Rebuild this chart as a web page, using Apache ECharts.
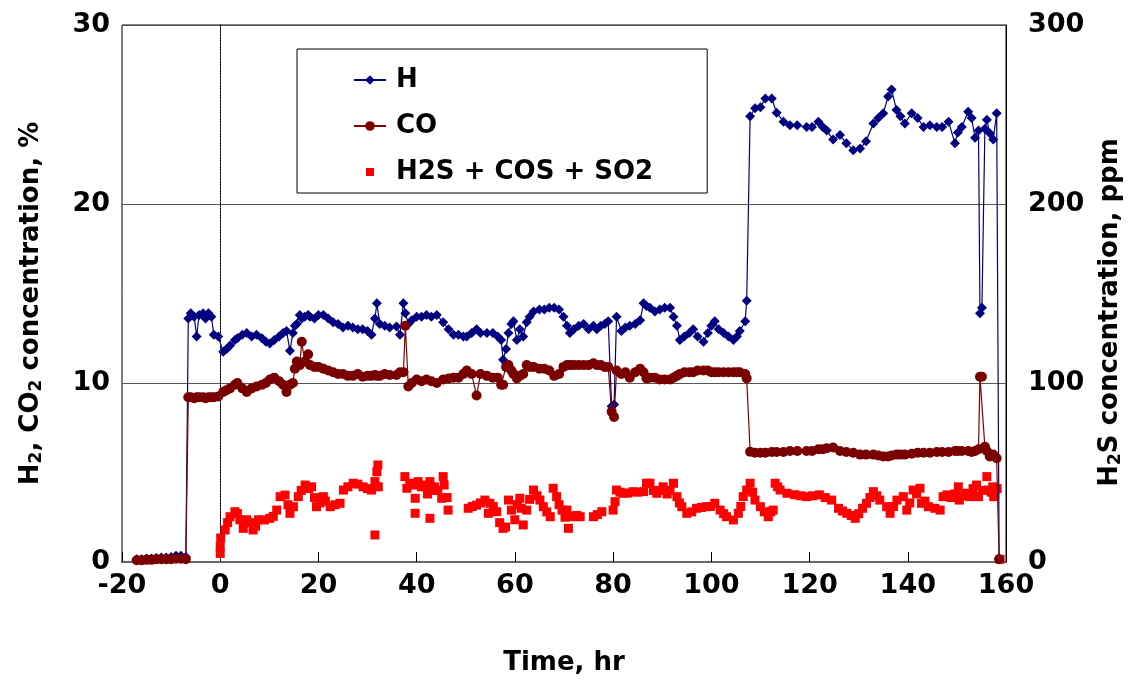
<!DOCTYPE html>
<html>
<head>
<meta charset="utf-8">
<script src="https://cdn.jsdelivr.net/npm/echarts@6/dist/echarts.min.js"></script>
<style>
  html, body { margin: 0; padding: 0; background: #fff; }
  #chart { width: 1138px; height: 684px; }
</style>
</head>
<body>
<div id="chart"></div>
<script>
// Gas composition over the run (hours relative to start of sulfur sampling)
const hours = [
  -17, -16, -15, -14, -13, -12, -11, -10, -9, -8, -7,
  -6.5, -6, -5.3, -4.8, -4.3, -3.5, -3, -2.4, -1.8, -1.3, -0.4,
  0.6, 1.3, 2, 3, 3.5, 4.5, 5.4, 6.4, 7.4, 8.5, 9.3, 10.1, 11, 12, 12.8, 13.5, 14.2, 14.8,
  15.2, 15.6, 16.2, 16.6, 17.2, 17.9, 18.3, 19.2, 20, 21, 22, 23, 24, 25, 26, 27, 28, 29, 30,
  30.8, 31.5, 31.9, 32.5, 33.5, 34.5, 35.9, 36.6, 37.3, 37.7, 38.3, 39, 40, 41, 42, 43, 44.1,
  45.4, 46.5, 47.5, 48.5, 49.5, 50.2, 51.2, 52.2, 53, 54.3, 55.5, 56.5, 57.2, 57.6, 58.2, 58.7,
  59.3, 59.7, 60.4, 61, 61.7, 62.4, 63, 63.8, 65, 66, 67, 68, 69, 69.9, 70.6, 71.2, 72, 73, 74,
  75, 76, 76.7, 77.5, 78.3, 79, 79.7, 80.2, 80.7, 81.7, 82.5, 83.4, 84.5, 85.5, 86.2, 86.8,
  87.5, 88.5, 89.5, 90.5, 91.6, 92.3, 93, 93.6, 94.5, 95.5, 96.3, 97.2, 98.4, 99.3, 100, 100.7,
  101.5, 102.5, 103.5, 104.5, 105.2, 105.8, 106.9, 107.2, 107.9,
  108.9, 110, 111, 112.3, 113.3, 114.7, 116, 117.5, 119.4, 120.5, 121.8, 122.7, 123.5, 124.8,
  126.2, 127.5, 128.9, 130.3, 131.5, 133, 134, 135, 136, 136.7, 137.7, 138.5, 139.4, 140.8,
  142, 143.2, 144.5, 145.9, 147, 148.3, 149.6, 150.2, 151, 152.3, 153, 153.7, 154.4, 154.7,
  155.1, 155.7, 156.1, 156.7, 157.4, 158.1, 158.6
];

const h2 = [
  0.15, 0.15, 0.2, 0.2, 0.22, 0.25, 0.25, 0.28, 0.35, 0.35, 0.3,
  13.6, 13.9, 13.7, 12.6, 13.8, 13.9, 13.6, 13.9, 13.7, 12.7, 12.6,
  11.75, 11.9, 12.1, 12.4, 12.5, 12.7, 12.8, 12.6, 12.7, 12.5, 12.3, 12.2, 12.4, 12.6, 12.8, 12.9, 11.8, 12.8,
  13.2, 13.3, 13.8, 13.6, 13.7, 13.8, 13.7, 13.6, 13.8, 13.8, 13.6, 13.4, 13.3, 13.1, 13.2, 13.1, 13.0, 13.0, 12.9,
  12.7, 13.6, 14.45, 13.3, 13.2, 13.1, 13.15, 12.7, 14.45, 13.9, 13.3, 13.5, 13.7, 13.7, 13.8, 13.7, 13.8,
  13.4, 13.0, 12.7, 12.7, 12.6, 12.6, 12.8, 13.0, 12.8, 12.8, 12.8, 12.6, 12.4, 11.3, 11.9, 12.8,
  13.3, 13.45, 12.4, 13.0, 12.6, 13.4, 13.7, 14.0, 14.1, 14.1, 14.2, 14.2, 14.1, 13.7, 13.2, 12.8, 13.0, 13.2, 13.3,
  13.0, 13.2, 13.0, 13.2, 13.3, 13.45, 8.7, 8.8, 13.7, 12.9, 13.1, 13.2, 13.3, 13.5, 14.45, 14.3,
  14.2, 14.0, 14.1, 14.2, 14.2, 13.7, 13.2, 12.4, 12.6, 12.8, 13.0, 12.6, 12.3, 12.8, 13.2, 13.45,
  13.0, 12.8, 12.6, 12.4, 12.6, 12.9, 13.45, 14.6, 24.9,
  25.35, 25.4, 25.9, 25.9, 25.1, 24.6, 24.4, 24.4, 24.3, 24.3, 24.6, 24.3, 24.1, 23.6,
  23.85, 23.4, 23.0, 23.1, 23.5, 24.5, 24.8, 25.07, 26.0, 26.4, 25.25, 24.9, 24.5, 25.07,
  24.8, 24.3, 24.4, 24.3, 24.3, 24.6, 23.4, 24.0, 24.3, 25.15, 24.8, 23.7, 24.1, 13.9,
  14.2, 24.2, 24.7, 23.95, 23.6, 25.07, 0.2
];

const co = [
  0.1, 0.1, 0.12, 0.12, 0.15, 0.15, 0.15, 0.15, 0.18, 0.18, 0.15,
  9.2, 9.2, 9.15, 9.2, 9.2, 9.2, 9.15, 9.2, 9.2, 9.2, 9.25,
  9.5, 9.6, 9.7, 9.9, 10.0, 9.7, 9.5, 9.7, 9.8, 9.9, 10.0, 10.2, 10.3, 10.1, 9.9, 9.5, 9.9, 10.0,
  10.8, 11.2, 11.0, 12.3, 11.2, 11.6, 11.0, 10.9, 10.9, 10.8, 10.7, 10.6, 10.5, 10.5, 10.4, 10.4, 10.5, 10.35, 10.4,
  10.4, 10.45, 10.4, 10.4, 10.5, 10.45, 10.45, 10.6, 10.6, 13.2, 9.8, 10.0, 10.2, 10.1, 10.2, 10.1, 10.0,
  10.2, 10.25, 10.3, 10.3, 10.5, 10.7, 10.5, 9.3, 10.5, 10.4, 10.3, 10.3, 9.9, 9.9, 10.9, 11.0,
  10.7, 10.5, 10.26, 10.4, 10.5, 11.0, 10.9, 10.9, 10.8, 10.8, 10.7, 10.4, 10.5, 10.9, 11.0, 11.0, 11.0, 11.0, 11.0,
  11.0, 11.1, 11.0, 11.0, 10.9, 10.9, 8.4, 8.1, 10.7, 10.5, 10.6, 10.3, 10.6, 10.8, 10.6, 10.26,
  10.3, 10.3, 10.2, 10.2, 10.2, 10.3, 10.4, 10.5, 10.6, 10.6, 10.6, 10.7, 10.7, 10.7, 10.6, 10.6,
  10.6, 10.6, 10.6, 10.6, 10.6, 10.6, 10.5, 10.26, 6.16,
  6.1, 6.1, 6.1, 6.15, 6.15, 6.15, 6.2, 6.2, 6.2, 6.2, 6.3, 6.3, 6.35, 6.4,
  6.2, 6.15, 6.1, 6.0, 6.0, 6.0, 5.95, 5.9, 5.9, 5.95, 6.0, 6.0, 6.0, 6.05,
  6.1, 6.1, 6.1, 6.15, 6.15, 6.15, 6.2, 6.2, 6.2, 6.2, 6.15, 6.2, 6.3, 10.35,
  10.35, 6.44, 6.2, 5.9, 6.0, 5.8, 0.15
];

// Total sulfur (H2S + COS + SO2), ppm
const sulfurHours = [
  0, 0, 0.1, 1, 1.5, 2, 3, 3.5, 4, 4.7, 5.4, 6, 6.7, 7.2, 7.8, 9, 10.1, 10.8, 11.5, 12.2, 13.2, 13.8,
  14.2, 14.9, 15.9, 16.5, 17.3, 18, 18.6, 19.2, 19.6, 20.3, 21, 21.4, 22.4, 23.4, 24.4, 25.1, 26, 27.1,
  28, 29.1, 30, 30.8, 31.5, 31.9, 32.1, 31.5, 32.2,
  37.6, 38, 38.6, 39.3, 39.7, 39.7, 40.3, 41, 41.7, 42.2, 42.7, 42.7, 43, 43.6, 44.3, 45.1, 45.4, 45.6,
  46.2, 46.4, 50.5, 51.3, 52.2, 53, 53.9, 54.6, 54.9, 55.6, 56.3, 56.9, 57.6, 58.1, 58.7, 59.3, 60, 60.5,
  61, 61.3, 61.7, 62.4, 63, 63.8, 64.5, 65.1, 65.8, 66.5, 67.2, 67.8, 68.5, 69, 69.6, 70.2, 70.6, 70.9,
  71.9, 72.6, 73.3, 76, 76.8, 77.7, 80, 80.4, 80.7, 81.4, 82.1, 83, 84.1, 85, 86.2, 86.8, 87.5, 88.2,
  88.9, 89.6, 90.2, 91, 91.6, 92.3, 93, 93.5, 94, 95, 96, 97, 98, 99, 99.8, 100.7, 101.8, 102.5, 103.1,
  104.5, 105.5, 106, 106.5, 107.2, 107.9, 108.4, 108.9, 110, 110.8, 111.6, 112.1, 112.6, 113, 113.5,
  114, 115.4, 117, 118.2, 119.4, 120.6, 122, 123.2, 124.5, 125.9, 126.7, 127.6, 128.5, 129.3, 130,
  130.8, 131.6, 132.3, 133, 133.7, 134.3, 135.7, 136.4, 137.1, 137.8, 139.1, 139.8, 140.4, 141.1,
  141.8, 142.5, 142.8, 143.5, 144.2, 145.5, 146.6, 147.2, 148, 148.8, 149.6, 150.3, 150.5, 151.2,
  152, 152.6, 153.3, 154, 154.4, 155.2, 156.1, 156.4, 157, 157.3, 157.5, 157.7, 158.2, 158.8
];

const sulfurPpm = [
  4.8, 8.6, 13.4, 17.9, 22, 25.3, 28.1, 27, 23.6, 18.8, 23.6, 22, 17.9, 20, 23.6, 23.5, 24.4, 25.5, 29, 36.5, 37.4, 32,
  27.2, 30.9, 36.5, 40, 43, 41, 42, 36, 30.9, 33, 36.5, 34, 30.9, 32, 32.8, 40.2, 42, 44,
  43.5, 42, 41, 40.2, 44.9, 50.4, 54.2, 15.1, 42,
  47.7, 41.2, 44, 43, 35.6, 27.2, 44.9, 42, 43, 38, 44.9, 24.4, 40, 42, 40, 35.6, 47.7, 43,
  36, 29, 30, 31, 31.8, 33, 34.6, 27.2, 32.8, 31, 28.1, 22, 18.8, 19.5, 34.6, 29, 23.6, 32,
  35.6, 30, 20.7, 29, 35, 40.2, 37, 34.6, 30.9, 28, 25.3, 41.2, 36.5, 32, 29, 25, 29, 18.8,
  25.3, 26, 25.3, 25.3, 26.5, 28.1, 29, 33.7, 40.2, 39, 38.4, 38.5, 39.3, 39, 39.3, 44, 44, 40,
  38.4, 40, 42, 38, 40, 44, 36.5, 33, 30.9, 27.2, 28, 30, 30.5, 30.9, 31, 32.8, 29, 27, 25.3,
  23.5, 27.2, 31, 36.5, 40.2, 44, 39, 34.6, 30.9, 28, 25.3, 28, 29, 44, 42,
  40.2, 38.4, 37.6, 37, 36.5, 37, 37.5, 36, 34.6, 30, 28.5, 27.2, 26, 24.4, 27,
  30, 32.8, 36, 39.3, 37, 34.6, 30.9, 27.2, 31, 34.6, 36.5, 29, 33, 40.2,
  38, 41.2, 32.8, 34, 30.9, 30, 29, 36.5, 37.5, 36, 38, 42, 34.6, 37,
  38.4, 36.5, 41, 43, 36.5, 40, 47.7, 40.2, 39, 42, 36.5, 38, 41, 1.5
];

// Axis ranges and tick steps
const xTicks = { min: -20, max: 160, step: 20 };
const leftTicks = { min: 0, max: 30, step: 10 };
const rightTicks = { min: 0, max: 300, step: 100 };

const seriesNames = ['H', 'CO', 'H2S + COS + SO2'];

const FONT = '"DejaVu Sans", Verdana, sans-serif';
const labelStyle = { fontFamily: FONT, fontWeight: 'bold', fontSize: 27, color: '#000' };
const titleRich = {
  t: { fontFamily: FONT, fontWeight: 'bold', fontSize: 26, color: '#000' },
  s: { fontFamily: FONT, fontWeight: 'bold', fontSize: 17, color: '#000', padding: [11, 0, 0, 0] }
};

const h2Data = hours.map((t, i) => [t, h2[i]]);
const coData = hours.map((t, i) => [t, co[i]]);
const sulfurData = sulfurHours.map((t, i) => [t, sulfurPpm[i]]);

const chart = echarts.init(document.getElementById('chart'), null, { renderer: 'canvas' });

chart.setOption({
  backgroundColor: '#fff',
  animation: false,
  grid: {
    left: 122, right: 132, top: 25, bottom: 122,
    show: true, borderColor: '#000', borderWidth: 1, backgroundColor: 'transparent'
  },
  legend: {
    orient: 'vertical',
    left: 297, top: 49,
    padding: [17, 54, 7, 56],
    itemGap: 18,
    itemWidth: 32,
    itemHeight: 12,
    backgroundColor: '#fff',
    borderColor: '#000',
    borderWidth: 1,
    textStyle: { fontFamily: FONT, fontWeight: 'bold', fontSize: 26, color: '#000', lineHeight: 28, padding: [0, 0, 0, 5] },
    data: [
      { name: seriesNames[0] },
      { name: seriesNames[1] },
      { name: seriesNames[2], icon: 'path://M0,0M32,12M12,2h8v8h-8z' }
    ]
  },
  xAxis: {
    type: 'value',
    min: xTicks.min, max: xTicks.max, interval: xTicks.step,
    name: 'Time, hr',
    nameLocation: 'middle',
    nameGap: 88,
    nameTextStyle: { fontFamily: FONT, fontWeight: 'bold', fontSize: 26, color: '#000' },
    axisLine: { show: true, onZero: false, lineStyle: { color: '#666', width: 2 } },
    axisTick: { show: true, inside: true, length: 10, lineStyle: { color: '#000', width: 1 } },
    axisLabel: Object.assign({ margin: 10 }, labelStyle),
    splitLine: { show: false }
  },
  yAxis: [
    {
      type: 'value',
      min: leftTicks.min, max: leftTicks.max, interval: leftTicks.step,
      name: '{t|H}{s|2}{t|, CO}{s|2}{t| concentration, %}',
      nameLocation: 'middle',
      nameRotate: 90,
      nameGap: 77,
      nameTextStyle: {
        fontFamily: FONT, fontWeight: 'bold', fontSize: 26, color: '#000',
        padding: [0, 20, 0, 0], rich: titleRich
      },
      axisLine: { show: true, lineStyle: { color: '#000', width: 1 } },
      axisTick: { show: false },
      axisLabel: Object.assign({ margin: 12 }, labelStyle),
      splitLine: { show: true, lineStyle: { color: '#555', width: 1 } }
    },
    {
      type: 'value',
      position: 'right',
      min: rightTicks.min, max: rightTicks.max, interval: rightTicks.step,
      name: '{t|H}{s|2}{t|S concentration, ppm}',
      nameLocation: 'middle',
      nameRotate: 90,
      nameGap: 90,
      nameTextStyle: {
        fontFamily: FONT, fontWeight: 'bold', fontSize: 26, color: '#000',
        padding: [0, 38, 0, 0], rich: titleRich
      },
      axisLine: { show: true, lineStyle: { color: '#000', width: 1 } },
      axisTick: { show: false },
      axisLabel: Object.assign({ margin: 22 }, labelStyle),
      splitLine: { show: false }
    }
  ],
  series: [
    {
      name: seriesNames[0],
      type: 'line',
      data: h2Data,
      yAxisIndex: 0,
      symbol: 'diamond',
      symbolSize: 10,
      showAllSymbol: true,
      lineStyle: { color: '#000080', width: 1.2 },
      itemStyle: { color: '#000080' },
      z: 3,
      markLine: {
        silent: true,
        symbol: 'none',
        label: { show: false },
        lineStyle: { type: [1, 2], color: '#555', width: 1 },
        data: [{ xAxis: 0 }]
      }
    },
    {
      name: seriesNames[1],
      type: 'line',
      data: coData,
      yAxisIndex: 0,
      symbol: 'circle',
      symbolSize: 10,
      showAllSymbol: true,
      lineStyle: { color: '#800000', width: 1.2 },
      itemStyle: { color: '#7a0000' },
      z: 4
    },
    {
      name: seriesNames[2],
      type: 'scatter',
      data: sulfurData,
      yAxisIndex: 1,
      symbol: 'rect',
      symbolSize: 9,
      itemStyle: { color: '#ff0000', opacity: 1 },
      z: 2
    }
  ]
});
</script>
</body>
</html>
